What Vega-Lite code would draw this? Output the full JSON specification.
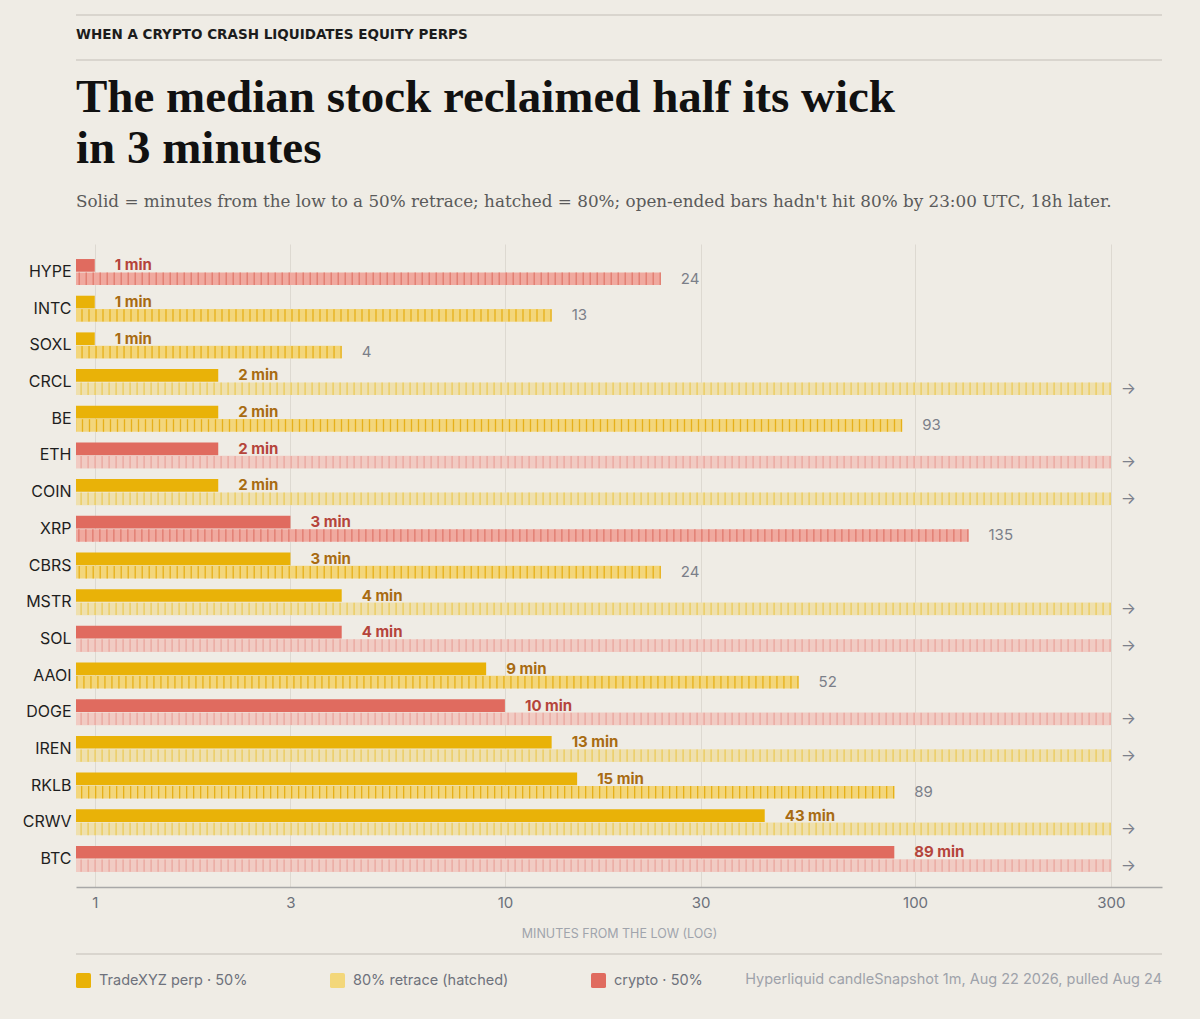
{
  "$schema": "https://vega.github.io/schema/vega-lite/v6.json",
  "background": "#EFECE5",
  "padding": {"left": 22, "top": 14, "right": 37, "bottom": 0},
  "spacing": 13,
  "config": {"view": {"stroke": null}, "font": "Inter"},
  "resolve": {"scale": {"x": "shared"}},
  "datasets": {
    "perps": [
      {"ticker": "HYPE", "type": "crypto", "m50": 1, "m80": 24, "open": false},
      {"ticker": "INTC", "type": "equity", "m50": 1, "m80": 13, "open": false},
      {"ticker": "SOXL", "type": "equity", "m50": 1, "m80": 4, "open": false},
      {"ticker": "CRCL", "type": "equity", "m50": 2, "m80": null, "open": true},
      {"ticker": "BE", "type": "equity", "m50": 2, "m80": 93, "open": false},
      {"ticker": "ETH", "type": "crypto", "m50": 2, "m80": null, "open": true},
      {"ticker": "COIN", "type": "equity", "m50": 2, "m80": null, "open": true},
      {"ticker": "XRP", "type": "crypto", "m50": 3, "m80": 135, "open": false},
      {"ticker": "CBRS", "type": "equity", "m50": 3, "m80": 24, "open": false},
      {"ticker": "MSTR", "type": "equity", "m50": 4, "m80": null, "open": true},
      {"ticker": "SOL", "type": "crypto", "m50": 4, "m80": null, "open": true},
      {"ticker": "AAOI", "type": "equity", "m50": 9, "m80": 52, "open": false},
      {"ticker": "DOGE", "type": "crypto", "m50": 10, "m80": null, "open": true},
      {"ticker": "IREN", "type": "equity", "m50": 13, "m80": null, "open": true},
      {"ticker": "RKLB", "type": "equity", "m50": 15, "m80": 89, "open": false},
      {"ticker": "CRWV", "type": "equity", "m50": 43, "m80": null, "open": true},
      {"ticker": "BTC", "type": "crypto", "m50": 89, "m80": null, "open": true}
    ]
  },
  "vconcat": [
    {
      "width": 1086,
      "height": 45,
      "data": {"values": [{}]},
      "layer": [
        {
          "mark": {"type": "rule", "color": "#D2CEC6", "strokeWidth": 1.5},
          "encoding": {"y": {"datum": 1, "type": "quantitative", "scale": {"domain": [0, 1]}, "axis": null}}
        },
        {
          "mark": {"type": "rule", "color": "#D2CEC6", "strokeWidth": 1.5},
          "encoding": {"y": {"datum": 0, "type": "quantitative", "scale": {"domain": [0, 1]}, "axis": null}}
        },
        {
          "mark": {"type": "text", "text": "WHEN A CRYPTO CRASH LIQUIDATES EQUITY PERPS", "align": "left", "baseline": "middle", "font": "DejaVu Sans", "fontWeight": 700, "fontSize": 13.5, "color": "#1C1C1C"},
          "encoding": {
            "x": {"datum": 0.9, "type": "quantitative", "scale": {"type": "log", "domain": [0.9, 400], "nice": false}, "axis": null},
            "y": {"datum": 0.55, "type": "quantitative", "scale": {"domain": [0, 1]}, "axis": null}
          }
        }
      ]
    },
    {
      "width": 1086,
      "height": 643,
      "data": {"name": "perps"},
      "title": {
        "text": ["The median stock reclaimed half its wick", "in 3 minutes"],
        "subtitle": "Solid = minutes from the low to a 50% retrace; hatched = 80%; open-ended bars hadn't hit 80% by 23:00 UTC, 18h later.",
        "anchor": "start",
        "frame": "group",
        "font": "Liberation Serif",
        "fontSize": 47,
        "fontWeight": 700,
        "lineHeight": 51,
        "color": "#111111",
        "subtitleFont": "DejaVu Serif",
        "subtitleFontSize": 16.8,
        "subtitleColor": "#5A5A5A",
        "subtitlePadding": 21,
        "offset": 32
      },
      "encoding": {
        "y": {
          "field": "ticker",
          "type": "nominal",
          "sort": ["HYPE", "INTC", "SOXL", "CRCL", "BE", "ETH", "COIN", "XRP", "CBRS", "MSTR", "SOL", "AAOI", "DOGE", "IREN", "RKLB", "CRWV", "BTC"],
          "title": null,
          "scale": {"paddingInner": 0.29, "paddingOuter": 0.41},
          "axis": {"ticks": false, "domain": false, "labelFont": "Inter", "labelFontSize": 16, "labelColor": "#1E1E1E", "labelPadding": 5}
        }
      },
      "layer": [
        {
          "transform": [{"filter": "datum.m80 != null"}],
          "mark": {"type": "bar", "fill": {"expr": "datum.type == 'crypto' ? '#F0A99F' : '#F3D67B'"}},
          "encoding": {
            "x": {
              "field": "m80", "type": "quantitative", "title": "MINUTES FROM THE LOW (LOG)",
              "scale": {"type": "log", "domain": [0.9, 400], "nice": false},
              "axis": {"values": [1, 3, 10, 30, 100, 300], "format": "d", "ticks": false, "grid": true, "gridColor": "#DDD9D1", "domainColor": "#A8A8A8", "domainWidth": 1.5, "labelFont": "Inter", "labelFontSize": 15, "labelColor": "#6B707A", "labelPadding": 8, "titleFont": "Inter", "titleFontSize": 12.5, "titleFontWeight": 400, "titleColor": "#A0A4AC", "titlePadding": 17}
            },
            "x2": {"datum": 0.9},
            "yOffset": {"datum": "80%", "type": "nominal", "scale": {"domain": ["50%", "80%"], "paddingInner": 0.05}}
          }
        },
        {
          "transform": [{"filter": "datum.open"}],
          "mark": {"type": "bar", "fill": {"expr": "datum.type == 'crypto' ? '#F1CBC3' : '#EFE0AE'"}},
          "encoding": {
            "x": {"datum": 300, "type": "quantitative", "title": "MINUTES FROM THE LOW (LOG)"},
            "x2": {"datum": 0.9},
            "yOffset": {"datum": "80%", "type": "nominal"}
          }
        },
        {
          "transform": [{"filter": "datum.m80 != null"}],
          "mark": {"type": "rule", "strokeWidth": 12.4, "strokeDash": [1.3, 5.7], "strokeCap": "butt", "stroke": {"expr": "datum.type == 'crypto' ? '#E07A6E' : '#E6B01A'"}},
          "encoding": {
            "x": {"field": "m80", "type": "quantitative", "title": "MINUTES FROM THE LOW (LOG)"},
            "x2": {"datum": 0.9},
            "yOffset": {"datum": "80%", "type": "nominal"}
          }
        },
        {
          "transform": [{"filter": "datum.open"}],
          "mark": {"type": "rule", "strokeWidth": 12.4, "strokeDash": [1.3, 5.7], "strokeCap": "butt", "stroke": {"expr": "datum.type == 'crypto' ? '#E9A79E' : '#ECCB5A'"}},
          "encoding": {
            "x": {"datum": 300, "type": "quantitative", "title": "MINUTES FROM THE LOW (LOG)"},
            "x2": {"datum": 0.9},
            "yOffset": {"datum": "80%", "type": "nominal"}
          }
        },
        {
          "mark": {"type": "bar"},
          "encoding": {
            "x": {"field": "m50", "type": "quantitative", "title": "MINUTES FROM THE LOW (LOG)"},
            "x2": {"datum": 0.9},
            "yOffset": {"datum": "50%", "type": "nominal"},
            "color": {
              "field": "type",
              "type": "nominal",
              "scale": {"domain": ["equity", "retrace", "crypto"], "range": ["#E9B208", "#F3D77A", "#E06B5F"]},
              "legend": {
                "orient": "none",
                "legendX": 0,
                "legendY": 958,
                "direction": "horizontal",
                "title": null,
                "labelFont": "Inter",
                "labelFontSize": 14.5,
                "labelColor": "#6E727C",
                "labelOffset": 8,
                "columnPadding": 82,
                "symbolSize": 225,
                "symbolStrokeWidth": 0,
                "symbolOpacity": 1,
                "symbolType": "M -0.75,-1 L 0.75,-1 Q 1,-1 1,-0.75 L 1,0.75 Q 1,1 0.75,1 L -0.75,1 Q -1,1 -1,0.75 L -1,-0.75 Q -1,-1 -0.75,-1 Z",
                "labelExpr": "datum.label == 'equity' ? 'TradeXYZ perp · 50%' : datum.label == 'retrace' ? '80% retrace (hatched)' : 'crypto · 50%'"
              }
            }
          }
        },
        {
          "mark": {"type": "text", "align": "left", "baseline": "middle", "dx": 20, "font": "Inter", "fontSize": 15, "fontWeight": 700, "text": {"expr": "datum.m50 + ' min'"}, "fill": {"expr": "datum.type == 'crypto' ? '#B5443B' : '#A86B12'"}},
          "encoding": {
            "x": {"field": "m50", "type": "quantitative", "title": "MINUTES FROM THE LOW (LOG)"},
            "yOffset": {"datum": "50%", "type": "nominal"}
          }
        },
        {
          "transform": [{"filter": "datum.m80 != null"}],
          "mark": {"type": "text", "align": "left", "baseline": "middle", "dx": 20, "font": "Inter", "fontSize": 15, "color": "#7B7F89"},
          "encoding": {
            "x": {"field": "m80", "type": "quantitative", "title": "MINUTES FROM THE LOW (LOG)"},
            "text": {"field": "m80", "type": "quantitative"},
            "yOffset": {"datum": "80%", "type": "nominal"}
          }
        },
        {
          "transform": [{"filter": "datum.open"}],
          "mark": {"type": "text", "text": "→", "align": "left", "baseline": "middle", "dx": 10, "font": "Inter", "fontSize": 16, "color": "#7D818C"},
          "encoding": {
            "x": {"datum": 300, "type": "quantitative", "title": "MINUTES FROM THE LOW (LOG)"},
            "yOffset": {"datum": "80%", "type": "nominal"}
          }
        }
      ]
    },
    {
      "width": 1086,
      "height": 65,
      "data": {"values": [{}]},
      "layer": [
        {
          "mark": {"type": "rule", "color": "#D2CEC6", "strokeWidth": 1.5},
          "encoding": {"y": {"datum": 1, "type": "quantitative", "scale": {"domain": [0, 1]}, "axis": null}}
        },
        {
          "mark": {"type": "text", "text": "Hyperliquid candleSnapshot 1m, Aug 22 2026, pulled Aug 24", "align": "right", "baseline": "middle", "font": "Inter", "fontSize": 14.5, "color": "#9EA2AA"},
          "encoding": {
            "x": {"datum": 400, "type": "quantitative", "scale": {"type": "log", "domain": [0.9, 400], "nice": false}, "axis": null},
            "y": {"datum": 0.6, "type": "quantitative", "scale": {"domain": [0, 1]}, "axis": null}
          }
        }
      ]
    }
  ]
}
